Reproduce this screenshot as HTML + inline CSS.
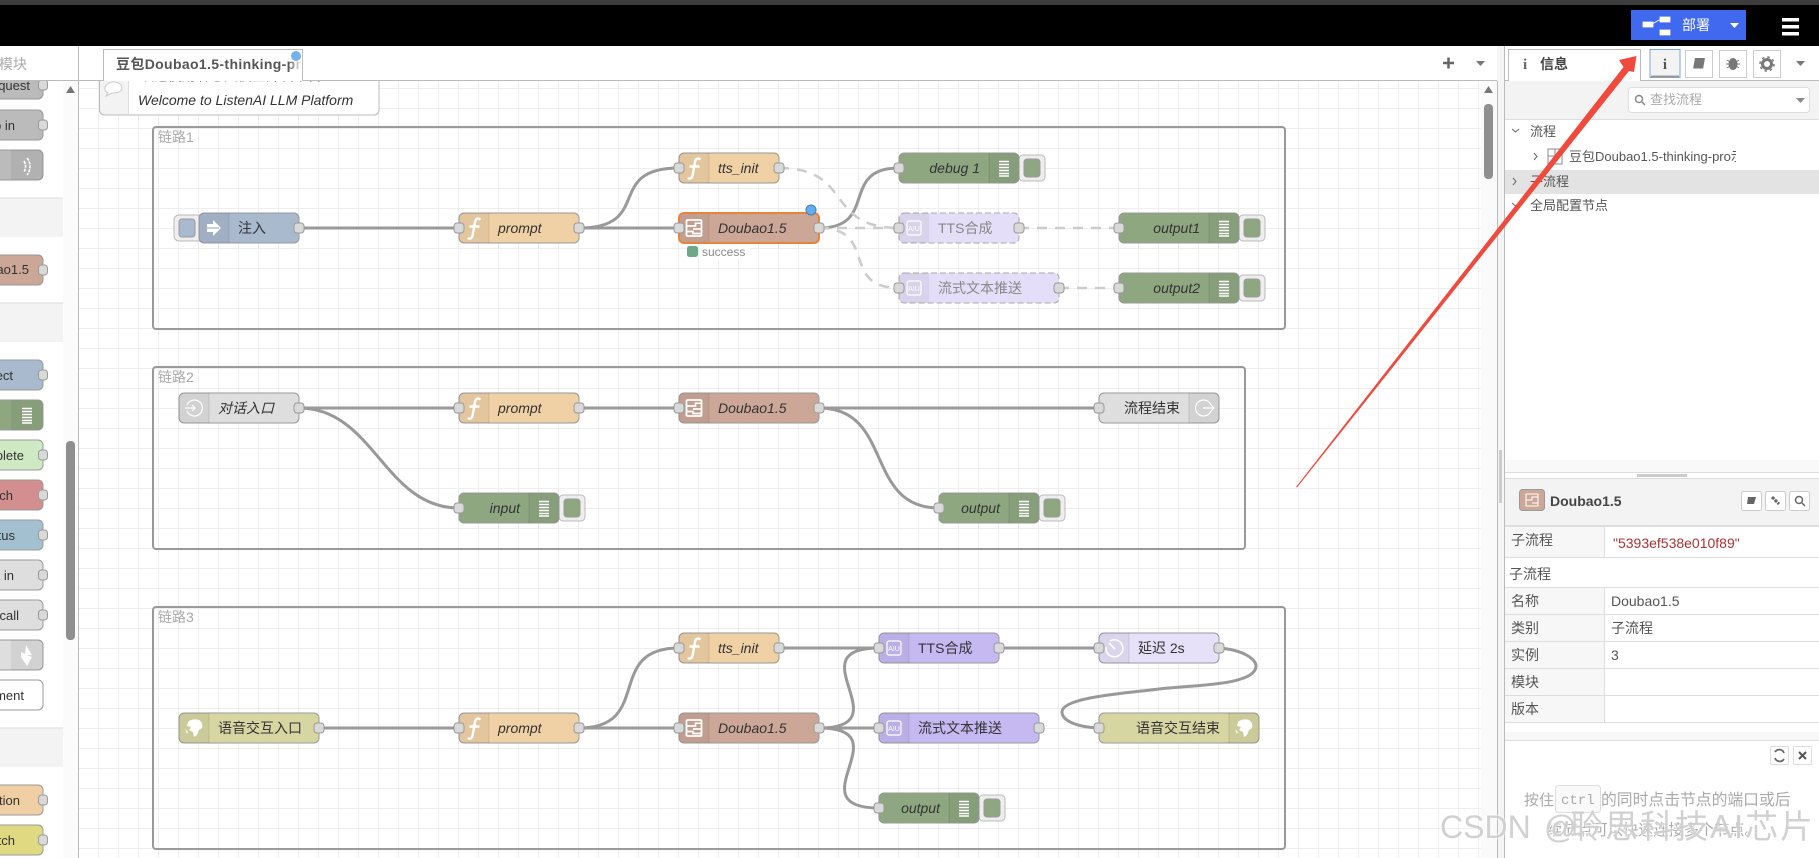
<!DOCTYPE html>
<html><head><meta charset="utf-8"><style>
html,body{margin:0;padding:0;background:#fff;width:1819px;height:858px;overflow:hidden}
svg{display:block;filter:blur(.3px)}
text{font-family:"Liberation Sans","Noto Sans CJK SC",sans-serif;font-size:14px;fill:#333}
.i{font-style:italic}
.n{stroke:#999;stroke-width:1}
.p{fill:#d9d9d9;stroke:#999;stroke-width:1}
.ic{fill:#000;fill-opacity:.05}
.dv{stroke:#000;stroke-opacity:.1}
.w{fill:none;stroke:#999;stroke-width:3}
.d{fill:none;stroke:#ccc;stroke-width:2.5;stroke-dasharray:10 8}
.g{fill:none;stroke:#999;stroke-width:2}
.gl{fill:#aaa}
.b{fill:#eee;stroke:#bbb;stroke-width:1}
.tl{fill:#555}
.ln{stroke:#ddd;stroke-width:1}
.pt{font-size:13px;text-anchor:end}
.dash{stroke:#aaa;stroke-dasharray:6 3}
.dt{fill:#888}
.wm{font-size:33px;fill:#c9c9c9;fill-opacity:.85}
.wb{font-size:33px;fill:#fff;fill-opacity:.5;stroke:#fff;stroke-width:2.5;stroke-opacity:.4}
</style></head><body>
<svg width="1819" height="858" viewBox="0 0 1819 858" xmlns="http://www.w3.org/2000/svg">
<defs>
<linearGradient id="fade" x1="0" x2="1" y1="0" y2="0"><stop offset="0" stop-color="#fff" stop-opacity="0"/><stop offset="1" stop-color="#fff"/></linearGradient>
<pattern id="grid" x="98" y="88" width="20" height="20" patternUnits="userSpaceOnUse"><path d="M.5 0V20M0 .5H20" stroke="#eee" stroke-width="1" fill="none"/></pattern>
<clipPath id="tabc"><rect x="104" y="49" width="198" height="31"/></clipPath>
<clipPath id="treec"><rect x="1505" y="140" width="231" height="30"/></clipPath>
<symbol id="f" width="30" height="30" overflow="visible"><path d="M21.5 6.500C18 4 16.300 6.500 15.700 10.500L13.800 21.500C13.200 25.500 11 26.500 8.700 25M10.500 13.500H20.500" fill="none" stroke="#fff" stroke-width="2.400"/></symbol>
<symbol id="sub" width="30" height="30" overflow="visible"><rect x="7.500" y="7" width="15" height="16" fill="none" stroke="#fff" stroke-width="1.800" rx="1"/><path d="M8 13H16.500V10.200H22M8 18.500H14V20.500H22M14 16H22" fill="none" stroke="#fff" stroke-width="1.700"/></symbol>
<symbol id="dbg" width="30" height="30" overflow="visible"><path d="M10 8.500H20M10 11.500H20M10 14.500H20M10 17.500H20M10 20.500H20M10 23H20" stroke="#fff" stroke-width="1.500"/></symbol>
<symbol id="ai" width="30" height="30" overflow="visible"><rect x="8" y="8" width="14" height="14" rx="2" fill="none" stroke="#fff" stroke-width="1.200"/><text x="15" y="18" text-anchor="middle" style="font-size:7px;fill:#fff">AIU</text></symbol>
<symbol id="glob" width="30" height="30" overflow="visible"><path d="M9 9C12 6 17 6 20 7C23 9 24 12 23 15L20 17L18 22L15 24L14 19L10 17L12 14L8 13ZM6 16L9 19L8 21Z" fill="#fff"/></symbol>
<symbol id="link" width="30" height="30" overflow="visible"><path d="M8 12A8 8 0 1 1 8 18" fill="none" stroke="#fff" stroke-width="1.200"/><path d="M6 15H16M13 12L16 15L13 18" fill="none" stroke="#fff" stroke-width="1.200"/></symbol>
<symbol id="linkout" width="30" height="30" overflow="visible"><path d="M22 12A8 8 0 1 0 22 18" fill="none" stroke="#fff" stroke-width="1.200"/><path d="M14 15H25M22 12L25 15L22 18" fill="none" stroke="#fff" stroke-width="1.200"/></symbol>
<symbol id="clock" width="30" height="30" overflow="visible"><path d="M11 8A8.500 8.500 0 1 1 7 14" fill="none" stroke="#fff" stroke-width="1.500"/><path d="M10 10L16 16" stroke="#fff" stroke-width="1.800"/></symbol>
<symbol id="inj" width="30" height="30" overflow="visible"><path d="M8 11H14V7L22 15L14 23V19H8Z" fill="#fff"/><path d="M7 15H20" stroke="#a9b9ce" stroke-width="1.300"/></symbol>
</defs>

<!-- top bar -->
<rect width="1819" height="46" fill="#000"/>
<rect width="1819" height="5" fill="#3d3d3d"/>
<rect x="1631" y="10" width="115" height="30" fill="#4169f0"/>
<path d="M1643 22H1653V27H1643ZM1660 17H1670V22H1660ZM1660 30H1670V35H1660ZM1652 24L1661 19" fill="#fff" stroke="#fff" stroke-width=".8"/>
<text x="1682" y="30" style="fill:#fff;font-size:14px">部署</text>
<path d="M1730 23H1739L1734.500 28Z" fill="#fff"/>
<path d="M1782 18H1799V21.500H1782ZM1782 25H1799V28.500H1782ZM1782 32H1799V35.500H1782Z" fill="#fff"/>

<!-- palette -->
<rect x="0" y="46" width="78" height="812" fill="#fff"/>
<rect x="63" y="81" width="15" height="777" fill="#fbfbfb"/>
<rect x="0" y="198" width="63" height="39" fill="#f3f3f3"/><path d="M0 198H63" stroke="#ddd"/>
<rect x="0" y="303" width="63" height="39" fill="#f3f3f3"/><path d="M0 303H63" stroke="#ddd"/>
<rect x="0" y="728" width="63" height="39" fill="#f3f3f3"/><path d="M0 728H63" stroke="#ddd"/>
<path d="M66 93H75L70.500 86Z" fill="#777"/>
<rect x="66" y="441" width="9" height="199" rx="4" fill="#8f8f8f"/>
<g>
<rect class="n" x="-20" y="69" width="63" height="30" rx="5" fill="#bbb"/><text class="pt" x="30" y="90">quest</text><rect class="p" x="38.500" y="80" width="9" height="10" rx="3"/>
<rect class="n" x="-20" y="110" width="63" height="30" rx="5" fill="#bbb"/><text class="pt" x="15" y="130">p in</text><rect class="p" x="38.500" y="120" width="9" height="10" rx="3"/>
<rect class="n" x="-20" y="150" width="63" height="30" rx="5" fill="#bbb"/><path d="M11 150H38a5 5 0 0 1 5 5V175a5 5 0 0 1-5 5H11Z" class="ic"/><path d="M27 158C31 163 31 170 27 175M24 161C26 164 26 169 24 172" fill="none" stroke="#fff" stroke-width="1.600" stroke-dasharray="3 1"/>
<rect class="n" x="-20" y="255" width="63" height="30" rx="5" fill="#cca797"/><text class="pt" x="29" y="274">ao1.5</text><rect class="p" x="38.500" y="265" width="9" height="10" rx="3"/>
<rect class="n" x="-20" y="360" width="63" height="30" rx="5" fill="#a9b9ce"/><text class="pt" x="13" y="380">ect</text><rect class="p" x="38.500" y="370" width="9" height="10" rx="3"/>
<rect class="n" x="-20" y="400" width="63" height="30" rx="5" fill="#8fa781"/><path d="M11 400H38a5 5 0 0 1 5 5V425a5 5 0 0 1-5 5H11Z" class="ic"/><use href="#dbg" x="12" y="400"/>
<rect class="n" x="-20" y="440" width="63" height="30" rx="5" fill="#cfe9c4"/><text class="pt" x="24" y="460">plete</text><rect class="p" x="38.500" y="450" width="9" height="10" rx="3"/>
<rect class="n" x="-20" y="480" width="63" height="30" rx="5" fill="#d38f8f"/><text class="pt" x="13" y="500">ch</text><rect class="p" x="38.500" y="490" width="9" height="10" rx="3"/>
<rect class="n" x="-20" y="520" width="63" height="30" rx="5" fill="#a2c0d0"/><text class="pt" x="15" y="540">tus</text><rect class="p" x="38.500" y="530" width="9" height="10" rx="3"/>
<rect class="n" x="-20" y="560" width="63" height="30" rx="5" fill="#dedede"/><text class="pt" x="14" y="580">t in</text><rect class="p" x="38.500" y="570" width="9" height="10" rx="3"/>
<rect class="n" x="-20" y="600" width="63" height="30" rx="5" fill="#dedede"/><text class="pt" x="19" y="620">call</text><rect class="p" x="38.500" y="610" width="9" height="10" rx="3"/>
<rect class="n" x="-20" y="640" width="63" height="30" rx="5" fill="#dedede"/><path d="M11 640H38a5 5 0 0 1 5 5V665a5 5 0 0 1-5 5H11Z" class="ic"/><path d="M26 645L32 655L27 655L32 657L27 666L21 657V652L25 654Z" fill="#fff"/>
<rect class="n" x="-20" y="680" width="63" height="30" rx="5" fill="#fff"/><text class="pt" x="24" y="700">ment</text>
<rect class="n" x="-20" y="785" width="63" height="30" rx="5" fill="#f0cfa5"/><text class="pt" x="20" y="805">tion</text><rect class="p" x="38.500" y="795" width="9" height="10" rx="3"/>
<rect class="n" x="-20" y="825" width="63" height="30" rx="5" fill="#dfd982"/><text class="pt" x="15" y="845">tch</text><rect class="p" x="38.500" y="835" width="9" height="10" rx="3"/>
</g>
<rect x="0" y="46" width="78" height="34" fill="#fff"/>
<text x="-1" y="69" style="font-size:14px;fill:#aaa">模块</text>
<path d="M0 80.500H78" stroke="#bbb"/>
<path d="M78.500 46V858" stroke="#bbb"/>

<!-- canvas -->
<rect x="79" y="81" width="1402" height="777" fill="#fff"/>
<rect x="79" y="81" width="1402" height="777" fill="url(#grid)"/>
<rect x="1481" y="81" width="16" height="777" fill="#fafafa"/>
<rect x="1484" y="104" width="9" height="75" rx="4" fill="#8f8f8f"/>
<path d="M1484 93H1493L1488.500 86Z" fill="#777"/>

<!-- comment -->
<path d="M99.500 81V110a5 5 0 0 0 5 5H374a5 5 0 0 0 5-5V81" fill="#fff" stroke="#bbb"/>
<text class="i" x="140" y="80.500" style="fill:#444">欢迎使用聆思大模型开发平台</text>
<path d="M99.500 81V110a5 5 0 0 0 5 5H128.500V81Z" fill="#f3f3f3" stroke="none"/>
<path d="M99.500 81V110a5 5 0 0 0 5 5H128" fill="none" stroke="#bbb"/>
<path d="M128.500 81V115" stroke="#ddd"/>
<path d="M105 90C104 85 109 82 114 82C119 82 122 85 122 88C122 92 117 93 112 93L106 96L108 92.500C106 92 105 91 105 90Z" fill="#fff" stroke="#ccc"/>
<text class="i" x="138" y="105">Welcome to ListenAI LLM Platform</text>

<!-- groups -->
<rect class="g" x="153" y="127" width="1132" height="202" rx="3"/>
<text class="gl" x="158" y="142">链路1</text>
<rect class="g" x="153" y="367" width="1092" height="182" rx="3"/>
<text class="gl" x="158" y="382">链路2</text>
<rect class="g" x="153" y="607" width="1132" height="242" rx="3"/>
<text class="gl" x="158" y="622">链路3</text>

<!-- wires -->
<path class="w" d="M299 228H459"/>
<path class="w" d="M579 228C654 228 604 168 679 168"/>
<path class="w" d="M579 228H679"/>
<path class="w" d="M819 228C879 228 839 168 899 168"/>
<path class="d" d="M779 168C854 168 824 228 899 228"/>
<path class="d" d="M819 228H899"/>
<path class="d" d="M819 228C879 228 839 288 899 288"/>
<path class="d" d="M1019 228H1119"/>
<path class="d" d="M1059 288H1119"/>
<path class="w" d="M299 408H459"/>
<path class="w" d="M299 408C374 408 384 508 459 508"/>
<path class="w" d="M579 408H679"/>
<path class="w" d="M819 408H1099"/>
<path class="w" d="M819 408C894 408 864 508 939 508"/>
<path class="w" d="M319 728H459"/>
<path class="w" d="M579 728C654 728 604 648 679 648"/>
<path class="w" d="M579 728H679"/>
<path class="w" d="M779 648H879"/>
<path class="w" d="M819 728C904 728 794 648 879 648"/>
<path class="w" d="M819 728H879"/>
<path class="w" d="M819 728C904 728 794 808 879 808"/>
<path class="w" d="M999 648H1099"/>
<path class="w" d="M1219 648C1245 650 1256 660 1256 666C1256 686 1190 685 1159 689C1128 693 1062 697 1062 712C1062 720 1075 727 1099 728"/>

<!-- group1 nodes -->
<path d="M174 220a5 5 0 0 1 5-5H200V241H179a5 5 0 0 1-5-5Z" class="b"/><rect x="179" y="219" width="16" height="18" rx="3" fill="#a9b9ce" stroke="#999"/>
<g transform="translate(199 213)"><rect class="n" width="100" height="30" rx="5" fill="#a9b9ce"/><path class="ic" d="M5 0H30V30H5a5 5 0 0 1-5-5V5a5 5 0 0 1 5-5Z"/><path class="dv" d="M30 0V30"/><use href="#inj" x="0" y="0"/><text x="39" y="20">注入</text><rect class="p" x="95" y="10" width="10" height="10" rx="3"/></g>
<g transform="translate(459 213)"><rect class="n" width="120" height="30" rx="5" fill="#f0d1a6"/><path class="ic" d="M5 0H30V30H5a5 5 0 0 1-5-5V5a5 5 0 0 1 5-5Z"/><path class="dv" d="M30 0V30"/><use href="#f" x="0" y="0"/><text class="i" x="39" y="20">prompt</text><rect class="p" x="-5" y="10" width="10" height="10" rx="3"/><rect class="p" x="115" y="10" width="10" height="10" rx="3"/></g>
<g transform="translate(679 153)"><rect class="n" width="100" height="30" rx="5" fill="#f0d1a6"/><path class="ic" d="M5 0H30V30H5a5 5 0 0 1-5-5V5a5 5 0 0 1 5-5Z"/><path class="dv" d="M30 0V30"/><use href="#f" x="0" y="0"/><text class="i" x="39" y="20">tts_init</text><rect class="p" x="-5" y="10" width="10" height="10" rx="3"/><rect class="p" x="95" y="10" width="10" height="10" rx="3"/></g>
<g transform="translate(679 213)"><rect width="140" height="30" rx="5" fill="#cca797" stroke="#e8833a" stroke-width="2"/><path class="ic" d="M5 1H30V29H5a4 4 0 0 1-4-4V5a4 4 0 0 1 4-4Z"/><path class="dv" d="M30 1V29"/><use href="#sub" x="0" y="0"/><text class="i" x="39" y="20">Doubao1.5</text><rect class="p" x="-5" y="10" width="10" height="10" rx="3"/><rect class="p" x="135" y="10" width="10" height="10" rx="3"/></g>
<circle cx="811" cy="210" r="5" fill="#62aef5" stroke="#4a7aa5"/>
<rect x="687" y="246" width="11" height="11" rx="2.500" fill="#6da88a"/>
<rect x="700" y="244" width="50" height="15" fill="#fff"/>
<text x="702" y="256" style="font-size:12px;fill:#888">success</text>
<rect x="1019" y="155" width="26" height="26" rx="4" class="b"/><rect x="1024" y="159" width="16" height="18" rx="3" fill="#8fa781" stroke="#999"/>
<g transform="translate(899 153)"><rect class="n" width="120" height="30" rx="5" fill="#8fa781"/><path class="ic" d="M90 0H115a5 5 0 0 1 5 5V25a5 5 0 0 1-5 5H90Z"/><path class="dv" d="M90 0V30"/><use href="#dbg" x="90" y="0"/><text class="i" x="81" y="20" text-anchor="end">debug 1</text><rect class="p" x="-5" y="10" width="10" height="10" rx="3"/></g>
<g transform="translate(899 213)"><rect class="n dash" width="120" height="30" rx="5" fill="#e4def8"/><path class="ic" d="M5 0H30V30H5a5 5 0 0 1-5-5V5a5 5 0 0 1 5-5Z"/><use href="#ai" x="0" y="0"/><text class="dt" x="39" y="20">TTS合成</text><rect class="p" x="-5" y="10" width="10" height="10" rx="3"/><rect class="p" x="115" y="10" width="10" height="10" rx="3"/></g>
<g transform="translate(899 273)"><rect class="n dash" width="160" height="30" rx="5" fill="#e4def8"/><path class="ic" d="M5 0H30V30H5a5 5 0 0 1-5-5V5a5 5 0 0 1 5-5Z"/><use href="#ai" x="0" y="0"/><text class="dt" x="39" y="20">流式文本推送</text><rect class="p" x="-5" y="10" width="10" height="10" rx="3"/><rect class="p" x="155" y="10" width="10" height="10" rx="3"/></g>
<rect x="1239" y="215" width="26" height="26" rx="4" class="b"/><rect x="1244" y="219" width="16" height="18" rx="3" fill="#8fa781" stroke="#999"/>
<g transform="translate(1119 213)"><rect class="n" width="120" height="30" rx="5" fill="#8fa781"/><path class="ic" d="M90 0H115a5 5 0 0 1 5 5V25a5 5 0 0 1-5 5H90Z"/><path class="dv" d="M90 0V30"/><use href="#dbg" x="90" y="0"/><text class="i" x="81" y="20" text-anchor="end">output1</text><rect class="p" x="-5" y="10" width="10" height="10" rx="3"/></g>
<rect x="1239" y="275" width="26" height="26" rx="4" class="b"/><rect x="1244" y="279" width="16" height="18" rx="3" fill="#8fa781" stroke="#999"/>
<g transform="translate(1119 273)"><rect class="n" width="120" height="30" rx="5" fill="#8fa781"/><path class="ic" d="M90 0H115a5 5 0 0 1 5 5V25a5 5 0 0 1-5 5H90Z"/><path class="dv" d="M90 0V30"/><use href="#dbg" x="90" y="0"/><text class="i" x="81" y="20" text-anchor="end">output2</text><rect class="p" x="-5" y="10" width="10" height="10" rx="3"/></g>

<!-- group2 nodes -->
<g transform="translate(179 393)"><rect class="n" width="120" height="30" rx="5" fill="#dedede"/><path class="ic" d="M5 0H30V30H5a5 5 0 0 1-5-5V5a5 5 0 0 1 5-5Z"/><path class="dv" d="M30 0V30"/><use href="#link" x="0" y="0"/><text class="i" x="39" y="20">对话入口</text><rect class="p" x="115" y="10" width="10" height="10" rx="3"/></g>
<g transform="translate(459 393)"><rect class="n" width="120" height="30" rx="5" fill="#f0d1a6"/><path class="ic" d="M5 0H30V30H5a5 5 0 0 1-5-5V5a5 5 0 0 1 5-5Z"/><path class="dv" d="M30 0V30"/><use href="#f" x="0" y="0"/><text class="i" x="39" y="20">prompt</text><rect class="p" x="-5" y="10" width="10" height="10" rx="3"/><rect class="p" x="115" y="10" width="10" height="10" rx="3"/></g>
<g transform="translate(679 393)"><rect class="n" width="140" height="30" rx="5" fill="#cca797"/><path class="ic" d="M5 0H30V30H5a5 5 0 0 1-5-5V5a5 5 0 0 1 5-5Z"/><path class="dv" d="M30 0V30"/><use href="#sub" x="0" y="0"/><text class="i" x="39" y="20">Doubao1.5</text><rect class="p" x="-5" y="10" width="10" height="10" rx="3"/><rect class="p" x="135" y="10" width="10" height="10" rx="3"/></g>
<g transform="translate(1099 393)"><rect class="n" width="120" height="30" rx="5" fill="#dedede"/><path class="ic" d="M90 0H115a5 5 0 0 1 5 5V25a5 5 0 0 1-5 5H90Z"/><path class="dv" d="M90 0V30"/><use href="#linkout" x="90" y="0"/><text x="81" y="20" text-anchor="end">流程结束</text><rect class="p" x="-5" y="10" width="10" height="10" rx="3"/></g>
<rect x="559" y="495" width="26" height="26" rx="4" class="b"/><rect x="564" y="499" width="16" height="18" rx="3" fill="#8fa781" stroke="#999"/>
<g transform="translate(459 493)"><rect class="n" width="100" height="30" rx="5" fill="#8fa781"/><path class="ic" d="M70 0H95a5 5 0 0 1 5 5V25a5 5 0 0 1-5 5H70Z"/><path class="dv" d="M70 0V30"/><use href="#dbg" x="70" y="0"/><text class="i" x="61" y="20" text-anchor="end">input</text><rect class="p" x="-5" y="10" width="10" height="10" rx="3"/></g>
<rect x="1039" y="495" width="26" height="26" rx="4" class="b"/><rect x="1044" y="499" width="16" height="18" rx="3" fill="#8fa781" stroke="#999"/>
<g transform="translate(939 493)"><rect class="n" width="100" height="30" rx="5" fill="#8fa781"/><path class="ic" d="M70 0H95a5 5 0 0 1 5 5V25a5 5 0 0 1-5 5H70Z"/><path class="dv" d="M70 0V30"/><use href="#dbg" x="70" y="0"/><text class="i" x="61" y="20" text-anchor="end">output</text><rect class="p" x="-5" y="10" width="10" height="10" rx="3"/></g>

<!-- group3 nodes -->
<g transform="translate(179 713)"><rect class="n" width="140" height="30" rx="5" fill="#d5d6a2"/><path class="ic" d="M5 0H30V30H5a5 5 0 0 1-5-5V5a5 5 0 0 1 5-5Z"/><path class="dv" d="M30 0V30"/><use href="#glob" x="0" y="0"/><text x="39" y="20">语音交互入口</text><rect class="p" x="135" y="10" width="10" height="10" rx="3"/></g>
<g transform="translate(459 713)"><rect class="n" width="120" height="30" rx="5" fill="#f0d1a6"/><path class="ic" d="M5 0H30V30H5a5 5 0 0 1-5-5V5a5 5 0 0 1 5-5Z"/><path class="dv" d="M30 0V30"/><use href="#f" x="0" y="0"/><text class="i" x="39" y="20">prompt</text><rect class="p" x="-5" y="10" width="10" height="10" rx="3"/><rect class="p" x="115" y="10" width="10" height="10" rx="3"/></g>
<g transform="translate(679 633)"><rect class="n" width="100" height="30" rx="5" fill="#f0d1a6"/><path class="ic" d="M5 0H30V30H5a5 5 0 0 1-5-5V5a5 5 0 0 1 5-5Z"/><path class="dv" d="M30 0V30"/><use href="#f" x="0" y="0"/><text class="i" x="39" y="20">tts_init</text><rect class="p" x="-5" y="10" width="10" height="10" rx="3"/><rect class="p" x="95" y="10" width="10" height="10" rx="3"/></g>
<g transform="translate(679 713)"><rect class="n" width="140" height="30" rx="5" fill="#cca797"/><path class="ic" d="M5 0H30V30H5a5 5 0 0 1-5-5V5a5 5 0 0 1 5-5Z"/><path class="dv" d="M30 0V30"/><use href="#sub" x="0" y="0"/><text class="i" x="39" y="20">Doubao1.5</text><rect class="p" x="-5" y="10" width="10" height="10" rx="3"/><rect class="p" x="135" y="10" width="10" height="10" rx="3"/></g>
<g transform="translate(879 633)"><rect class="n" width="120" height="30" rx="5" fill="#c6b9f2"/><path class="ic" d="M5 0H30V30H5a5 5 0 0 1-5-5V5a5 5 0 0 1 5-5Z"/><path class="dv" d="M30 0V30"/><use href="#ai" x="0" y="0"/><text x="39" y="20">TTS合成</text><rect class="p" x="-5" y="10" width="10" height="10" rx="3"/><rect class="p" x="115" y="10" width="10" height="10" rx="3"/></g>
<g transform="translate(879 713)"><rect class="n" width="160" height="30" rx="5" fill="#c6b9f2"/><path class="ic" d="M5 0H30V30H5a5 5 0 0 1-5-5V5a5 5 0 0 1 5-5Z"/><path class="dv" d="M30 0V30"/><use href="#ai" x="0" y="0"/><text x="39" y="20">流式文本推送</text><rect class="p" x="-5" y="10" width="10" height="10" rx="3"/><rect class="p" x="155" y="10" width="10" height="10" rx="3"/></g>
<rect x="979" y="795" width="26" height="26" rx="4" class="b"/><rect x="984" y="799" width="16" height="18" rx="3" fill="#8fa781" stroke="#999"/>
<g transform="translate(879 793)"><rect class="n" width="100" height="30" rx="5" fill="#8fa781"/><path class="ic" d="M70 0H95a5 5 0 0 1 5 5V25a5 5 0 0 1-5 5H70Z"/><path class="dv" d="M70 0V30"/><use href="#dbg" x="70" y="0"/><text class="i" x="61" y="20" text-anchor="end">output</text><rect class="p" x="-5" y="10" width="10" height="10" rx="3"/></g>
<g transform="translate(1099 633)"><rect class="n" width="120" height="30" rx="5" fill="#e6e1f9"/><path class="ic" d="M5 0H30V30H5a5 5 0 0 1-5-5V5a5 5 0 0 1 5-5Z"/><path class="dv" d="M30 0V30"/><use href="#clock" x="0" y="0"/><text x="39" y="20">延迟 2s</text><rect class="p" x="-5" y="10" width="10" height="10" rx="3"/><rect class="p" x="115" y="10" width="10" height="10" rx="3"/></g>
<g transform="translate(1099 713)"><rect class="n" width="160" height="30" rx="5" fill="#d5d6a2"/><path class="ic" d="M130 0H155a5 5 0 0 1 5 5V25a5 5 0 0 1-5 5H130Z"/><path class="dv" d="M130 0V30"/><use href="#glob" x="130" y="0"/><text x="121" y="20" text-anchor="end">语音交互结束</text><rect class="p" x="-5" y="10" width="10" height="10" rx="3"/></g>

<!-- tab bar -->
<rect x="79" y="46" width="1418" height="34" fill="#fff"/>
<path d="M79 80.500H1497" stroke="#bbb"/>
<path d="M103.500 80V49.500H302.500V80" fill="#fff" stroke="#bbb"/>
<rect x="104" y="79" width="198" height="2" fill="#fff"/>
<g clip-path="url(#tabc)"><text x="116" y="69" style="font-weight:bold;fill:#555;letter-spacing:.35px">豆包Doubao1.5-thinking-pro</text></g>
<rect x="288" y="50" width="14" height="29" fill="url(#fade)"/>
<circle cx="296" cy="56" r="4.500" fill="#6eb5f5" stroke="#8ac"/>
<path d="M1443 63H1454M1448.500 57.500V68.500" stroke="#666" stroke-width="2.500"/>
<path d="M1476 61H1485L1480.500 66Z" fill="#777"/>

<!-- sidebar -->
<rect x="1497" y="46" width="7" height="812" fill="#f5f5f5"/>
<rect x="1505" y="46" width="314" height="812" fill="#fff"/>
<path d="M1497.500 81V858M1504.500 46V858" stroke="#bbb"/>
<rect x="1499" y="450" width="3" height="53" fill="#ccc"/>
<path d="M1505 80.500H1819" stroke="#bbb"/>
<path d="M1508.500 80V49.500H1640.500V80" fill="#fff" stroke="#bbb"/>
<rect x="1509" y="79" width="131" height="2" fill="#fff"/>
<text x="1523" y="69" style="font-family:'Liberation Serif',serif;font-weight:bold;fill:#666;font-size:15px">i</text>
<text x="1540" y="69" style="font-weight:bold;fill:#444">信息</text>
<rect x="1650" y="49.500" width="30" height="28" fill="#f3f3f3" stroke="#7da5e0"/><path d="M1651 76.500H1679" stroke="#999" stroke-width="2"/>
<text x="1665" y="69" text-anchor="middle" style="font-family:'Liberation Serif',serif;font-weight:bold;fill:#555;font-size:15px">i</text>
<rect x="1685.500" y="50.500" width="27" height="27" fill="#fff" stroke="#ccc"/>
<path d="M1695 58H1705L1703 69H1693Z" fill="#777"/><path d="M1693 69H1703" stroke="#fff"/>
<rect x="1719.500" y="50.500" width="27" height="27" fill="#fff" stroke="#ccc"/>
<ellipse cx="1733" cy="64" rx="4.500" ry="6" fill="#777"/><path d="M1727 60L1739 68M1739 60L1727 68M1726 64H1740" stroke="#777"/>
<rect x="1753.500" y="50.500" width="27" height="27" fill="#fff" stroke="#ccc"/>
<circle cx="1767" cy="64" r="4.500" fill="none" stroke="#777" stroke-width="3"/><circle cx="1767" cy="64" r="7" fill="none" stroke="#777" stroke-width="1.500" stroke-dasharray="2.500 3"/>
<path d="M1796 61H1805L1800.500 66Z" fill="#777"/>
<rect x="1505" y="81" width="314" height="39" fill="#f3f3f3"/>
<path d="M1505 119.500H1819" stroke="#ddd"/>
<rect x="1628.500" y="87.500" width="181" height="25" rx="3" fill="#fff" stroke="#ddd"/>
<circle cx="1639" cy="99" r="3.500" fill="none" stroke="#888" stroke-width="1.500"/><path d="M1642 102L1645 105" stroke="#888" stroke-width="1.500"/>
<text x="1650" y="104" style="font-size:13px;fill:#aaa">查找流程</text>
<path d="M1796 98H1805L1800.500 103Z" fill="#888"/>
<path d="M1512 129L1515.500 132L1519 129" fill="none" stroke="#666"/>
<text x="1530" y="136" style="font-size:13px;fill:#555">流程</text>
<path d="M1534 153L1537 156.500L1534 160" fill="none" stroke="#666"/>
<rect x="1548" y="149" width="14" height="15" fill="#fff" stroke="#888"/><path d="M1548 156H1555M1555 149V156" stroke="#888"/>
<g clip-path="url(#treec)"><text x="1569" y="161" style="font-size:13px;fill:#555">豆包Doubao1.5-thinking-pro示例</text></g>
<rect x="1505" y="170" width="314" height="24" fill="#e3e3e3"/>
<path d="M1513 178L1516 181.500L1513 185" fill="none" stroke="#666"/>
<text x="1530" y="186" style="font-size:13px;fill:#555">子流程</text>
<path d="M1512 203L1515.500 206L1519 203" fill="none" stroke="#666"/>
<text x="1530" y="210" style="font-size:13px;fill:#555">全局配置节点</text>
<rect x="1505" y="460" width="314" height="13" fill="#f9f9f9"/>
<path d="M1505 472.500H1819M1505 478.500H1819" stroke="#ddd"/>
<rect x="1637" y="474" width="50" height="3" fill="#ccc"/>
<rect x="1505" y="479" width="314" height="46" fill="#f3f3f3"/>
<rect x="1505" y="525" width="314" height="2" fill="#ddd"/>
<rect x="1519.500" y="489.500" width="25" height="21" rx="3" fill="#cca797" stroke="#999"/>
<rect x="1526" y="494" width="12" height="12" fill="none" stroke="#fff"/><path d="M1526 500H1532V497H1538M1532 503H1538" stroke="#fff" fill="none"/>
<text x="1550" y="506" style="font-weight:bold;fill:#444">Doubao1.5</text>
<rect x="1741.500" y="491.500" width="20" height="19" rx="2" fill="#fff" stroke="#ccc"/><path d="M1748 497H1756L1754 504H1747Z" fill="#666"/>
<rect x="1765.500" y="491.500" width="20" height="19" rx="2" fill="#fff" stroke="#ccc"/><path d="M1772 497L1779 504" stroke="#666" stroke-width="3" stroke-dasharray="3 1"/>
<rect x="1789.500" y="491.500" width="20" height="19" rx="2" fill="#fff" stroke="#ccc"/><circle cx="1799" cy="500" r="3.500" fill="none" stroke="#666" stroke-width="1.500"/><path d="M1802 503L1805 506" stroke="#666" stroke-width="1.500"/>
<rect x="1505" y="527" width="99" height="30" fill="#f7f7f7"/>
<rect x="1505" y="587" width="99" height="135" fill="#f7f7f7"/>
<path class="ln" d="M1505 557.500H1819M1505 587.500H1819M1505 614.500H1819M1505 641.500H1819M1505 668.500H1819M1505 695.500H1819M1505 722.500H1819M1604.500 527V557M1604.500 587V722"/>
<text class="tl" x="1511" y="545">子流程</text>
<text x="1613" y="548" style="font-size:14px;fill:#a33">"5393ef538e010f89"</text>
<text class="tl" x="1509" y="579">子流程</text>
<text class="tl" x="1511" y="606">名称</text><text class="tl" x="1611" y="606">Doubao1.5</text>
<text class="tl" x="1511" y="633">类别</text><text class="tl" x="1611" y="633">子流程</text>
<text class="tl" x="1511" y="660">实例</text><text class="tl" x="1611" y="660">3</text>
<text class="tl" x="1511" y="687">模块</text>
<text class="tl" x="1511" y="714">版本</text>
<rect x="1505" y="732" width="314" height="8" fill="#f8f8f8"/>
<path d="M1505 740.500H1819" stroke="#ddd"/>
<rect x="1770.500" y="746.500" width="18" height="18" rx="1" fill="#fff" stroke="#ddd"/>
<path d="M1775 752A5 5 0 0 1 1784 753M1784 759A5 5 0 0 1 1775 758" fill="none" stroke="#666" stroke-width="1.800"/>
<rect x="1793.500" y="746.500" width="18" height="18" rx="1" fill="#fff" stroke="#ddd"/>
<path d="M1799 752L1806 759M1806 752L1799 759" stroke="#555" stroke-width="2"/>
<text x="1524" y="805" style="fill:#aaa;font-size:15px">按住</text>
<rect x="1555.500" y="785.500" width="45" height="27" rx="3" fill="#fafafa" stroke="#ddd"/>
<text x="1561" y="804" style="font-family:'Liberation Mono',monospace;font-size:14px;fill:#aaa">ctrl</text>
<text x="1601" y="805" style="fill:#aaa;font-size:15.800px">的同时点击节点的端口或后</text>
<text x="1547" y="835" style="fill:#aaa;font-size:15.200px">续节点可以快速连接多个节点。</text>

<!-- watermark -->
<text class="wb" x="1440" y="838" style="font-size:32px">CSDN</text>
<text class="wb" x="1544" y="838" style="font-size:32px">@</text>
<text class="wb" x="1570" y="838" style="letter-spacing:2px">聆思科技AI芯片</text>
<text class="wm" x="1440" y="838" style="font-size:32px">CSDN</text>
<text class="wm" x="1544" y="838" style="font-size:32px">@</text>
<text class="wm" x="1570" y="838" style="letter-spacing:2px">聆思科技AI芯片</text>

<!-- red arrow -->
<polygon points="1296,487 1623.500,67 1619,60 1636.500,56 1634,72 1629,71 1297,487.500" fill="#ef4a3c"/>
</svg>
</body></html>
